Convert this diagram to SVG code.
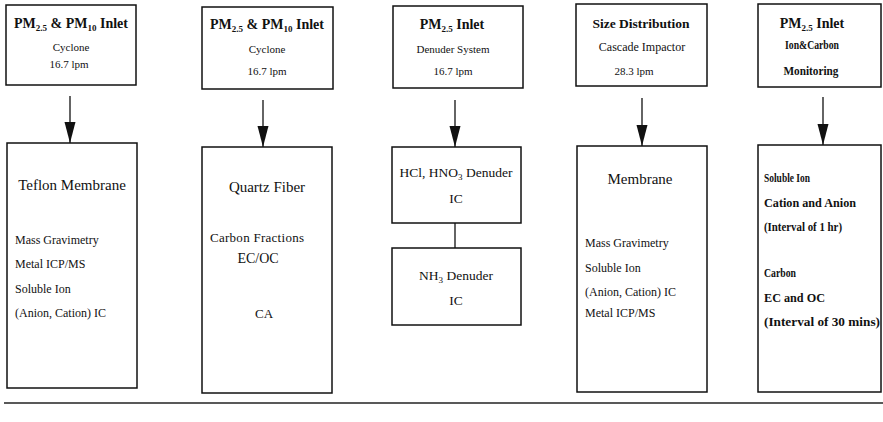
<svg xmlns="http://www.w3.org/2000/svg" width="883" height="422" viewBox="0 0 883 422">
<style>
text{font-family:"Liberation Serif","Times New Roman",serif;fill:#111}
.box{fill:#fff;stroke:#111;stroke-width:1.5}
.t{font-size:14px;font-weight:bold;text-anchor:middle}
.s{font-size:11px;text-anchor:middle}
.h{font-size:15px;text-anchor:middle}
.b{font-size:12px}
.d{font-size:13.5px;text-anchor:middle}
.m{font-size:12px;font-weight:bold}
.sub{font-size:9px}
.conn{stroke:#111;stroke-width:1.3;fill:none}
</style>
<defs>
<marker id="ah" markerUnits="userSpaceOnUse" markerWidth="22" markerHeight="12" refX="21" refY="5.5" orient="auto">
<path d="M0,0 L21,5.5 L0,11 z" fill="#111"/>
</marker>
</defs>
<rect width="883" height="422" fill="#fff"/>

<g id="inlet1">
<rect class="box" x="6" y="5" width="130" height="80"/>
<text class="t" x="71" y="28">PM<tspan class="sub" dy="3">2.5</tspan><tspan dy="-3"> &amp; PM</tspan><tspan class="sub" dy="3">10</tspan><tspan dy="-3"> Inlet</tspan></text>
<text class="s" x="71" y="51">Cyclone</text>
<text class="s" x="69" y="68">16.7 lpm</text>
</g>
<g id="inlet2">
<rect class="box" x="202" y="7" width="131" height="82"/>
<text class="t" x="267" y="29">PM<tspan class="sub" dy="3">2.5</tspan><tspan dy="-3"> &amp; PM</tspan><tspan class="sub" dy="3">10</tspan><tspan dy="-3"> Inlet</tspan></text>
<text class="s" x="267" y="53">Cyclone</text>
<text class="s" x="267" y="75">16.7 lpm</text>
</g>
<g id="inlet3">
<rect class="box" x="393" y="6" width="130" height="82"/>
<text class="t" x="452" y="29">PM<tspan class="sub" dy="3">2.5</tspan><tspan dy="-3"> Inlet</tspan></text>
<text class="s" x="453" y="53">Denuder System</text>
<text class="s" x="453" y="75">16.7 lpm</text>
</g>
<g id="inlet4">
<rect class="box" x="576" y="4" width="131" height="82"/>
<text class="t" x="641" y="28" style="font-size:13.5px">Size Distribution</text>
<text class="s" x="642" y="51" style="font-size:12px">Cascade Impactor</text>
<text class="s" x="634" y="75">28.3 lpm</text>
</g>
<g id="inlet5">
<rect class="box" x="758" y="4" width="123" height="83"/>
<text class="t" x="812" y="28">PM<tspan class="sub" dy="3">2.5</tspan><tspan dy="-3">  Inlet</tspan></text>
<text class="t" x="812" y="49" style="font-size:12px" textLength="54" lengthAdjust="spacingAndGlyphs">Ion&amp;Carbon</text>
<text class="t" x="811" y="75" style="font-size:12px" textLength="55" lengthAdjust="spacingAndGlyphs">Monitoring</text>
</g>

<g id="teflon">
<rect class="box" x="7" y="143" width="130" height="245"/>
<text class="h" x="72" y="190">Teflon Membrane</text>
<text class="b" x="15" y="244">Mass Gravimetry</text>
<text class="b" x="15" y="268">Metal ICP/MS</text>
<text class="b" x="15" y="293">Soluble Ion</text>
<text class="b" x="15" y="317">(Anion, Cation) IC</text>
</g>
<g id="quartz">
<rect class="box" x="202" y="147" width="130" height="246"/>
<text class="h" x="267" y="192">Quartz Fiber</text>
<text class="b" x="210" y="242" style="font-size:13px" textLength="94" lengthAdjust="spacing">Carbon Fractions</text>
<text class="h" x="258" y="263" style="font-size:14px">EC/OC</text>
<text class="h" x="264" y="318" style="font-size:13px">CA</text>
</g>
<g id="acid-denuder">
<rect class="box" x="392" y="147" width="129" height="76"/>
<text class="d" x="456" y="177">HCl, HNO<tspan class="sub" dy="3">3</tspan><tspan dy="-3"> Denuder</tspan></text>
<text class="d" x="456" y="203">IC</text>
</g>
<g id="nh3-denuder">
<rect class="box" x="392" y="248" width="129" height="77"/>
<text class="d" x="456" y="280">NH<tspan class="sub" dy="3">3</tspan><tspan dy="-3"> Denuder</tspan></text>
<text class="d" x="456" y="305">IC</text>
</g>
<g id="membrane">
<rect class="box" x="577" y="146" width="130" height="246"/>
<text class="h" x="640" y="184">Membrane</text>
<text class="b" x="585" y="247">Mass Gravimetry</text>
<text class="b" x="585" y="272">Soluble Ion</text>
<text class="b" x="585" y="296">(Anion, Cation) IC</text>
<text class="b" x="585" y="317">Metal ICP/MS</text>
</g>
<g id="monitor">
<rect class="box" x="758" y="145" width="123" height="247"/>
<text class="m" x="764" y="182" textLength="46" lengthAdjust="spacingAndGlyphs">Soluble Ion</text>
<text class="m" x="764" y="207" textLength="92" lengthAdjust="spacingAndGlyphs">Cation and Anion</text>
<text class="m" x="764" y="231" textLength="78" lengthAdjust="spacingAndGlyphs">(Interval of 1 hr)</text>
<text class="m" x="764" y="277" textLength="32" lengthAdjust="spacingAndGlyphs">Carbon</text>
<text class="m" x="764" y="302" textLength="61" lengthAdjust="spacingAndGlyphs">EC and OC</text>
<text class="m" x="764" y="326" textLength="116" lengthAdjust="spacingAndGlyphs">(Interval of 30 mins)</text>
</g>

<g id="connectors">
<line class="conn" x1="70" y1="96" x2="70" y2="143" marker-end="url(#ah)"/>
<line class="conn" x1="263" y1="100" x2="263" y2="147" marker-end="url(#ah)"/>
<line class="conn" x1="455" y1="100" x2="455" y2="147" marker-end="url(#ah)"/>
<line class="conn" x1="642" y1="98" x2="642" y2="146" marker-end="url(#ah)"/>
<line class="conn" x1="823" y1="97" x2="823" y2="145" marker-end="url(#ah)"/>
<line class="conn" x1="455" y1="223" x2="455" y2="248"/>
</g>

<line x1="4" y1="403" x2="883" y2="403" stroke="#222" stroke-width="1.5"/>
</svg>
